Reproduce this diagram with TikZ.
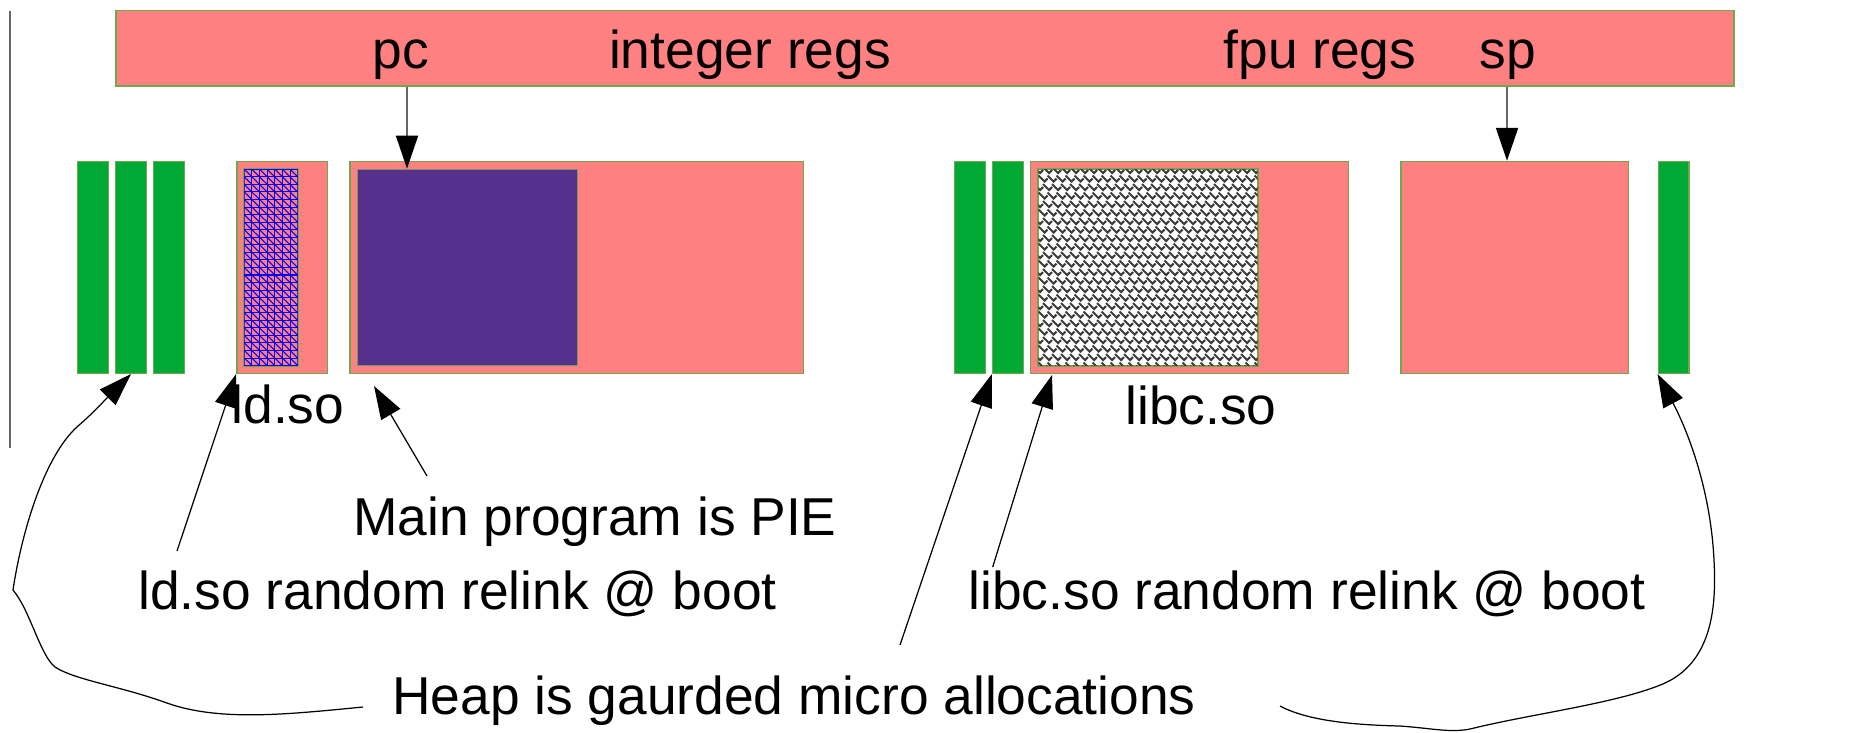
\documentclass[tikz,border=0pt]{standalone}
\usepackage{fontspec}
\setmainfont{Liberation Sans}
\usetikzlibrary{arrows.meta,fit,calc}
\definecolor{boxpink}{HTML}{FF8080}
\definecolor{edgegreen}{HTML}{72A84C}
\definecolor{bargreen}{HTML}{00A933}
\definecolor{innerpurple}{HTML}{55308D}
\definecolor{linegray}{HTML}{666666}
\definecolor{patgray}{HTML}{3C3C3C}
\begin{document}
\begin{tikzpicture}[x=0.01cm,y=-0.01cm,
  box/.style={draw=edgegreen, line width=0.4pt, fill=boxpink, inner sep=0pt},
  gbar/.style={draw=edgegreen, line width=0.4pt, fill=bargreen, inner sep=0pt},
  lbl/.style={font=\fontsize{15.17pt}{18pt}\selectfont, inner sep=0pt, anchor=base},
  arr/.style={draw=black, line width=0.35pt, -{Triangle[length=0.33cm,width=0.22cm]}},
  garr/.style={draw=linegray, line width=0.55pt, -{Triangle[length=0.33cm,width=0.22cm,color=black,fill=black]}}]
\useasboundingbox (0,0) rectangle (1864,732);
\fill[white] (0,0) rectangle (1864,732);

% left vertical rule
\draw[linegray, line width=0.45pt] (10,11) -- (10,448);

% register bar
\node[box, fit={(116,10.5) (1734,86)}] (topbar) {};
\node[lbl] (pc) at (401,68) {pc};
\node[lbl] (intregs) at (750,68) {integer regs};
\node[lbl] (fpuregs) at (1320,68) {fpu regs};
\node[lbl] (sp) at (1508,68) {sp};

% heap guard bars (left)
\node[gbar, fit={(77.5,161.5) (108.5,373.3)}] (g1) {};
\node[gbar, fit={(115.5,161.5) (146.5,373.3)}] (g2) {};
\node[gbar, fit={(153.5,161.5) (184.3,373.3)}] (g3) {};

% ld.so
\node[box, fit={(236.8,161.5) (327.7,373.3)}] (ld) {};
\node[box, fit={(244.3,169.3) (297.7,365.7)}] (ldin) {};
\begin{scope}
  \clip (244.3,169.3) rectangle (297.7,365.7);
  \foreach \i in {0,...,7} {
    \draw[blue, line width=0.3pt] ({244.3+\i*7.63},169.3) -- ({244.3+\i*7.63},365.7);
  }
  \foreach \j in {0,...,26} {
    \draw[blue, line width=0.3pt] (244.3,{169.3+\j*7.55}) -- (297.7,{169.3+\j*7.55});
  }
  \foreach \k in {-28,...,8} {
    \draw[blue, line width=0.3pt] ({244.3+\k*7.63},169.3) -- ({244.3+\k*7.63+200},{169.3+200*7.55/7.63});
  }
\end{scope}
\draw[edgegreen, line width=0.4pt] (ldin.south west) rectangle (ldin.north east);

% main program
\node[box, fit={(350,161.5) (803.6,373.3)}] (main) {};
\node[draw=edgegreen!60!gray, line width=0.4pt, fill=innerpurple, inner sep=0pt, fit={(357.7,169.3) (577.3,365.7)}] (mainin) {};

% libc guard bars
\node[gbar, fit={(954.6,161.5) (985.5,373.3)}] (g4) {};
\node[gbar, fit={(992.6,161.5) (1023.4,373.3)}] (g5) {};

% libc.so
\node[box, fit={(1030.7,161.5) (1348.3,373.3)}] (libc) {};
\node[draw=edgegreen, line width=0.4pt, fill=white, inner sep=0pt, fit={(1038.3,169.3) (1257.7,365.7)}] (libcin) {};
\begin{scope}
  \clip (1038.3,169.3) rectangle (1257.7,365.7);
  \foreach \r in {0,...,23} {
    \foreach \c in {0,...,25} {
      \draw[patgray, line width=0.6pt]
        ({1034+\c*9+mod(\r,2)*4.5},{167+\r*8.5}) -- ++(6,6) -- ++(3,-3);
    }
  }
\end{scope}
\draw[edgegreen, line width=0.4pt] (libcin.south west) rectangle (libcin.north east);

% stack
\node[box, fit={(1401,161.5) (1628.3,373.3)}] (stack) {};

% right guard bar
\node[gbar, fit={(1658.3,161.5) (1689,373.3)}] (g6) {};

% labels
\node[lbl] (ldlbl) at (288,423) {ld.so};
\node[lbl] (libclbl) at (1201,424) {libc.so};
\node[lbl] (pie) at (595,535) {Main program is PIE};
\node[lbl] (ldrr) at (457.5,609) {ld.so random relink @ boot};
\node[lbl] (libcrr) at (1307,609) {libc.so random relink @ boot};
\node[lbl] (heap) at (794,714) {Heap is gaurded micro allocations};

% register arrows
\coordinate (pcx) at (407,0);
\coordinate (spx) at (1507,0);
\draw[garr] (topbar.south -| pcx) -- (mainin.north -| pcx);
\draw[garr] (topbar.south -| spx) -- (stack.north -| spx);

% free ends of connectors
\coordinate (lds) at (177,551);
\coordinate (mps) at (427,476);
\coordinate (mpe) at (374,386);
\coordinate (la1) at (900,645);
\coordinate (la2) at (992.7,567);
\coordinate (hl) at (363,707);
\coordinate (hr) at (1280,706);

\draw[arr] (lds) -- (ld.south west);
\draw[arr] (mps) -- (mpe);
\draw[arr] (la1) -- (g5.south west);
\draw[arr] (la2) -- ($(libc.south west)+(22,1)$);

% heap curves
\draw[arr] (hl) .. controls (290,714) and (220,722) .. (167,703)
  .. controls (120,686) and (75,680) .. (55,667)
  .. controls (40,655) and (30,610) .. (13,590)
  .. controls (22,530) and (45,455) .. (78,426)
  .. controls (92,414) and (100,405) .. (g2.south);
\draw[arr] (hr) .. controls (1310,722) and (1360,725) .. (1400,726)
  .. controls (1430,728) and (1450,733) .. (1470,729)
  .. controls (1530,714) and (1620,703) .. (1665,683)
  .. controls (1715,660) and (1716,600) .. (1714,560)
  .. controls (1710,480) and (1682,420) .. (g6.south west);
\end{tikzpicture}
\end{document}
